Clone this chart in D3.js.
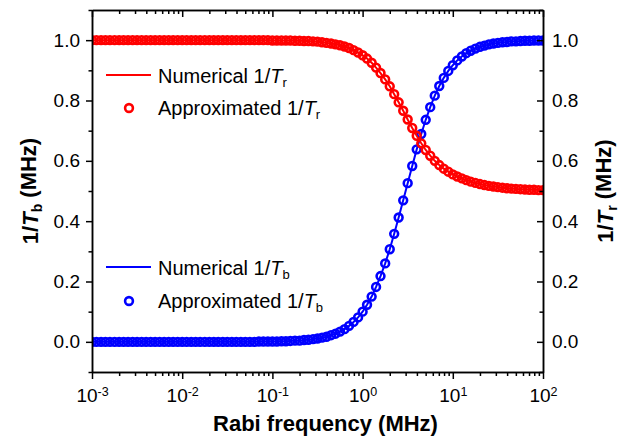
<!DOCTYPE html>
<html>
<head>
<meta charset="utf-8">
<script src="https://cdn.jsdelivr.net/npm/d3@7"></script>
<style>
  body { margin: 0; background: #fff; }
  svg { display: block; font-family: Arial, "Liberation Sans", sans-serif; }
  .axis path, .axis line { stroke: #000; stroke-width: 1.5; }
  .axis text { fill: #000; font-family: Arial, "Liberation Sans", sans-serif; }
</style>
</head>
<body>
<svg></svg>
<script>
let width = 622
let height = 443
let plotLeft = 92
let plotRight = 543
let plotTop = 10
let plotBottom = 372

// Rabi frequency (MHz), 20 points per decade
let freq = [
  0.001, 0.00112, 0.00126, 0.00141, 0.00158, 0.00178, 0.002, 0.00224, 0.00251, 0.00282,
  0.00316, 0.00355, 0.00398, 0.00447, 0.00501, 0.00562, 0.00631, 0.00708, 0.00794, 0.00891,
  0.01, 0.0112, 0.0126, 0.0141, 0.0158, 0.0178, 0.02, 0.0224, 0.0251, 0.0282,
  0.0316, 0.0355, 0.0398, 0.0447, 0.0501, 0.0562, 0.0631, 0.0708, 0.0794, 0.0891,
  0.1, 0.112, 0.126, 0.141, 0.158, 0.178, 0.2, 0.224, 0.251, 0.282,
  0.316, 0.355, 0.398, 0.447, 0.501, 0.562, 0.631, 0.708, 0.794, 0.891,
  1, 1.12, 1.26, 1.41, 1.58, 1.78, 2, 2.24, 2.51, 2.82,
  3.16, 3.55, 3.98, 4.47, 5.01, 5.62, 6.31, 7.08, 7.94, 8.91,
  10, 11.2, 12.6, 14.1, 15.8, 17.8, 20, 22.4, 25.1, 28.2,
  31.6, 35.5, 39.8, 44.7, 50.1, 56.2, 63.1, 70.8, 79.4, 89.1,
  100
]

// 1/Tb (MHz)
let invTb = [
  0, 0, 0, 0, 0, 0, 0, 0, 0, 0,
  0, 0, 0, 0, 0, 0, 0, 0, 0, 0,
  0, 0, 0, 0, 0, 0, 0, 0, 0, 0,
  0, 0, 0, 0, 0, 0, 0, 0.001, 0.001, 0.001,
  0.001, 0.001, 0.002, 0.002, 0.003, 0.004, 0.004, 0.006, 0.007, 0.009,
  0.011, 0.014, 0.017, 0.022, 0.027, 0.034, 0.042, 0.053, 0.066, 0.081,
  0.100, 0.123, 0.150, 0.182, 0.218, 0.260, 0.307, 0.358, 0.412, 0.469,
  0.526, 0.583, 0.638, 0.689, 0.736, 0.778, 0.816, 0.848, 0.875, 0.898,
  0.917, 0.933, 0.946, 0.957, 0.965, 0.972, 0.978, 0.982, 0.986, 0.989,
  0.991, 0.993, 0.994, 0.996, 0.996, 0.997, 0.998, 0.998, 0.999, 0.999,
  0.999
]

// 1/Tr (MHz)
let invTr = [
  1, 1, 1, 1, 1, 1, 1, 1, 1, 1,
  1, 1, 1, 1, 1, 1, 1, 1, 1, 1,
  1, 1, 1, 1, 1, 1, 1, 1, 1, 1,
  1, 1, 1, 1, 1, 1, 1, 1, 1, 1,
  0.999, 0.999, 0.999, 0.999, 0.999, 0.998, 0.998, 0.997, 0.997, 0.996,
  0.995, 0.993, 0.991, 0.989, 0.986, 0.983, 0.979, 0.974, 0.967, 0.959,
  0.950, 0.939, 0.925, 0.909, 0.891, 0.870, 0.847, 0.821, 0.794, 0.766,
  0.737, 0.709, 0.683, 0.658, 0.636, 0.617, 0.600, 0.586, 0.574, 0.564,
  0.555, 0.548, 0.542, 0.536, 0.531, 0.527, 0.523, 0.520, 0.517, 0.515,
  0.513, 0.511, 0.509, 0.508, 0.507, 0.506, 0.505, 0.504, 0.504, 0.503,
  0.503
]

let xTicks = [1e-3, 1e-2, 1e-1, 1e0, 1e1, 1e2]
let xTickExp = ['-3', '-2', '-1', '0', '1', '2']
let yTicks = [0, 0.2, 0.4, 0.6, 0.8, 1.0]
let yMinor = [-0.1, 0.1, 0.3, 0.5, 0.7, 0.9, 1.1]

let red = '#ff0000'
let blue = '#0000ff'

let xScale = d3.scaleLog()
               .domain([1e-3, 1e2])
               .range([plotLeft, plotRight])

let yScale = d3.scaleLinear()
               .domain([-0.1, 1.1])
               .range([plotBottom, plotTop])

// 2..9 between decades
let xMinor = xTicks.slice(0, -1)
                   .flatMap(d => [2, 3, 4, 5, 6, 7, 8, 9].map(m => m * d))

let svg = d3.select('svg')
            .attr('width', width)
            .attr('height', height)

svg.append('defs')
  .append('clipPath')
    .attr('id', 'plot')
  .append('rect')
    .attr('x', plotLeft)
    .attr('y', plotTop)
    .attr('width', plotRight - plotLeft)
    .attr('height', plotBottom - plotTop)

// series
let rows = freq.map((f, i) => ({ f: f, b: invTb[i], r: invTr[i] }))

let series = [
  { key: 'b', color: blue },
  { key: 'r', color: red }
]

let plot = svg.append('g').attr('clip-path', 'url(#plot)')

series.forEach(s => {
  let line = d3.line()
               .x(d => xScale(d.f))
               .y(d => yScale(d[s.key]))

  plot.append('path')
    .datum(rows)
    .attr('d', line)
    .attr('fill', 'none')
    .attr('stroke', s.color)
    .attr('stroke-width', 2)

  plot.selectAll('circle.' + s.key)
    .data(rows)
    .enter()
    .append('circle')
      .attr('class', s.key)
      .attr('cx', d => xScale(d.f))
      .attr('cy', d => yScale(d[s.key]))
      .attr('r', 3.9)
      .attr('fill', 'none')
      .attr('stroke', s.color)
      .attr('stroke-width', 2.6)
})

// axes
svg.append('g')
    .attr('class', 'axis')
    .attr('transform', `translate(0, ${plotBottom})`)
    .call(d3.axisBottom(xScale).tickValues(xMinor).tickSize(4).tickSizeOuter(0).tickFormat(''))

let xAxis = svg.append('g')
    .attr('class', 'axis')
    .attr('transform', `translate(0, ${plotBottom})`)
    .call(d3.axisBottom(xScale).tickValues(xTicks).tickSize(7).tickSizeOuter(0).tickPadding(10))

xAxis.selectAll('text')
    .style('font-size', '19px')
    .each(function (d, i) {
      let t = d3.select(this).text('10')
      t.append('tspan')
        .attr('dy', '-0.5em')
        .style('font-size', '12.5px')
        .text(xTickExp[i])
    })

svg.append('g')
    .attr('class', 'axis')
    .attr('transform', `translate(0, ${plotTop})`)
    .call(d3.axisTop(xScale).tickValues(xMinor).tickSize(-4).tickSizeOuter(0).tickFormat(''))

svg.append('g')
    .attr('class', 'axis')
    .attr('transform', `translate(0, ${plotTop})`)
    .call(d3.axisTop(xScale).tickValues(xTicks).tickSize(-7).tickSizeOuter(0).tickFormat(''))

svg.append('g')
    .attr('class', 'axis')
    .attr('transform', `translate(${plotLeft}, 0)`)
    .call(d3.axisLeft(yScale).tickValues(yMinor).tickSize(3.5).tickSizeOuter(0).tickFormat(''))

svg.append('g')
    .attr('class', 'axis')
    .attr('transform', `translate(${plotLeft}, 0)`)
    .call(d3.axisLeft(yScale).tickValues(yTicks).tickSize(6).tickSizeOuter(0).tickPadding(6).tickFormat(d3.format('.1f')))
  .selectAll('text')
    .style('font-size', '19px')

svg.append('g')
    .attr('class', 'axis')
    .attr('transform', `translate(${plotRight}, 0)`)
    .call(d3.axisRight(yScale).tickValues(yMinor).tickSize(-3.5).tickSizeOuter(0).tickFormat(''))

svg.append('g')
    .attr('class', 'axis')
    .attr('transform', `translate(${plotRight}, 0)`)
    .call(d3.axisRight(yScale).tickValues(yTicks).tickSize(-6).tickSizeOuter(0).tickPadding(9).tickFormat(d3.format('.1f')))
  .selectAll('text')
    .style('font-size', '19px')

// text with italic T and a subscript
function subLabel (g, pre, sub, post, size, subSize) {
  g.append('tspan').text(pre)
  g.append('tspan').style('font-style', 'italic').text('T')
  g.append('tspan').attr('dy', '0.3em').style('font-size', subSize).text(sub)
  if (post) g.append('tspan').attr('dy', '-0.3em').style('font-size', size).text(post)
}

// axis titles
svg.append('text')
    .attr('x', (plotLeft + plotRight) / 2 + 8)
    .attr('y', 431)
    .style('text-anchor', 'middle')
    .style('font-size', '22px')
    .style('font-weight', 'bold')
    .text('Rabi frequency (MHz)')

let yTitleL = svg.append('text')
    .attr('transform', `translate(38, ${(plotTop + plotBottom) / 2}) rotate(-90)`)
    .style('text-anchor', 'middle')
    .style('font-size', '22px')
    .style('font-weight', 'bold')
subLabel(yTitleL, '1/', 'b', ' (MHz)', '22px', '14px')

let yTitleR = svg.append('text')
    .attr('transform', `translate(613, ${(plotTop + plotBottom) / 2}) rotate(-90)`)
    .style('text-anchor', 'middle')
    .style('font-size', '22px')
    .style('font-weight', 'bold')
subLabel(yTitleR, '1/', 'r', ' (MHz)', '22px', '14px')

// legends
let legend = [
  { color: red, lineY: 75, markY: 108, sub: 'r' },
  { color: blue, lineY: 267, markY: 301, sub: 'b' }
]

legend.forEach(l => {
  svg.append('line')
      .attr('x1', 106)
      .attr('x2', 151)
      .attr('y1', l.lineY)
      .attr('y2', l.lineY)
      .attr('stroke', l.color)
      .attr('stroke-width', 2)

  svg.append('circle')
      .attr('cx', 129)
      .attr('cy', l.markY)
      .attr('r', 3.9)
      .attr('fill', 'none')
      .attr('stroke', l.color)
      .attr('stroke-width', 2.6)

  let t1 = svg.append('text')
      .attr('x', 158)
      .attr('y', l.lineY + 8)
      .style('font-size', '20px')
  subLabel(t1, 'Numerical 1/', l.sub, null, '20px', '13px')

  let t2 = svg.append('text')
      .attr('x', 158)
      .attr('y', l.markY + 7)
      .style('font-size', '20px')
  subLabel(t2, 'Approximated 1/', l.sub, null, '20px', '13px')
})
</script>
</body>
</html>
